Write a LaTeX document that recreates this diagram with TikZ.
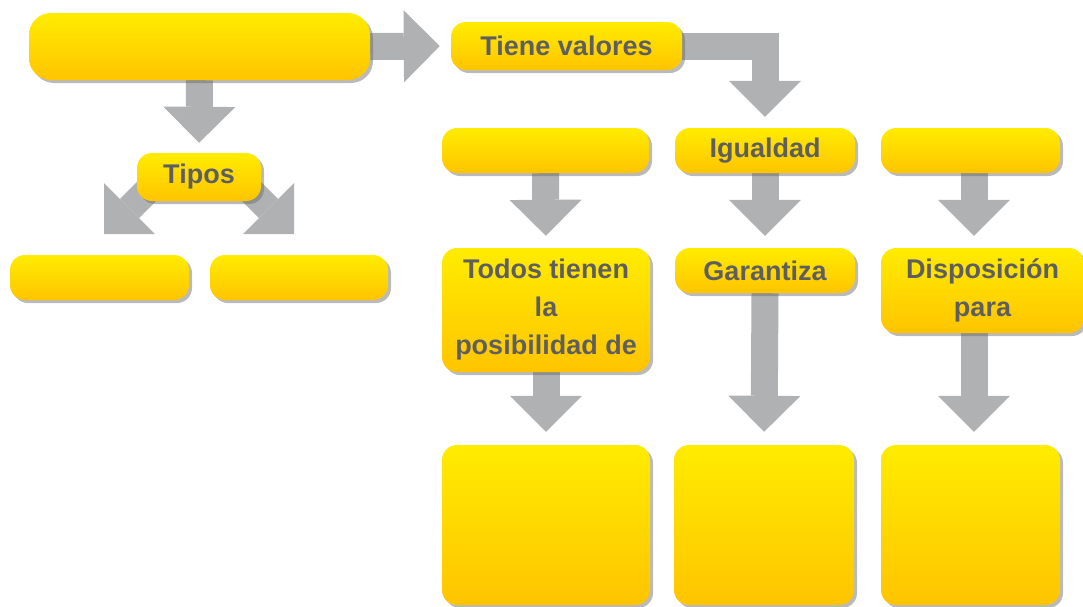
\documentclass[tikz,border=0pt]{standalone}
\usepackage{fontspec}
\setmainfont{Liberation Sans}
\usetikzlibrary{arrows.meta,shadows,backgrounds}
\definecolor{arrowgray}{HTML}{B0B1B3}
\definecolor{boxtop}{HTML}{FFEC00}
\definecolor{boxbottom}{HTML}{FFC400}
\definecolor{labelgray}{HTML}{5E5E60}

\begin{document}
\begin{tikzpicture}[x=1pt, y=-1pt]
    \tikzstyle{concept box} = [rounded corners=15pt, top color=boxtop, bottom color=boxbottom, inner sep=0pt, align=center, text=labelgray, font=\fontsize{27}{38}\selectfont\bfseries, drop shadow={shadow xshift=3pt, shadow yshift=-3pt, opacity=0.45, fill=black!60}]
    \tikzstyle{block arrow} = [draw=arrowgray, line width=27pt, -{Triangle[width=72pt,length=36pt,line width=0pt]}]
\useasboundingbox (0,0) rectangle (1083,606);
\node[concept box, minimum width=341pt, minimum height=67pt, rounded corners=22pt] (tema) at (199.5, 46.5) {};
\node[concept box, minimum width=231pt, minimum height=48pt] (valores) at (566.5, 46) {Tiene valores};
\node[concept box, minimum width=124pt, minimum height=48pt] (tipos) at (199, 177) {Tipos};
\node[concept box, minimum width=179pt, minimum height=45pt] (tipoa) at (99.5, 277.5) {};
\node[concept box, minimum width=178pt, minimum height=45pt] (tipob) at (299, 277.5) {};
\node[concept box, minimum width=207pt, minimum height=45pt] (valora) at (545.5, 150.5) {};
\node[concept box, minimum width=180pt, minimum height=45pt] (igualdad) at (765, 150.5) {Igualdad};
\node[concept box, minimum width=179pt, minimum height=45pt] (valorc) at (970.5, 150.5) {};
\node[concept box, minimum width=208pt, minimum height=124pt] (todos) at (546, 310) {Todos tienen\\la\\posibilidad de};
\node[concept box, minimum width=180pt, minimum height=45pt] (garantiza) at (765, 270.5) {Garantiza};
\node[concept box, minimum width=203pt, minimum height=85pt] (disposicion) at (982.5, 290.5) {Disposición\\para};
\node[concept box, minimum width=208pt, minimum height=160pt] (fina) at (546, 525) {};
\node[concept box, minimum width=180pt, minimum height=160pt] (finb) at (764, 525) {};
\node[concept box, minimum width=179pt, minimum height=160pt] (finc) at (970.5, 525) {};
\coordinate (tl) at (104, 234);
\coordinate (tr) at (294, 234);
\begin{pgfonlayer}{background}
\draw[block arrow, shorten >=11pt] (tema.east) -- (valores.west);
\draw[block arrow, shorten >=10pt] (tema.south) -- (tipos.north);
\draw[block arrow, shorten >=11pt] (valores.east) -| (igualdad.north);
\draw[block arrow, shorten <=-20pt] (tipos.south west) -- (tl);
\draw[block arrow, shorten <=-20pt] (tipos.south east) -- (tr);
\draw[block arrow, shorten >=12pt] (valora.south) -- (todos.north);
\draw[block arrow, shorten >=12pt] (igualdad.south) -- (garantiza.north);
\draw[block arrow, shorten >=12pt] ([xshift=3.5pt]valorc.south) -- ([xshift=3.5pt]valorc.south |- disposicion.north);
\draw[block arrow, shorten >=13pt] (todos.south) -- (fina.north);
\draw[block arrow, shorten >=13pt] (garantiza.south) -- (finb.north);
\draw[block arrow, shorten >=13pt] ([xshift=-8.5pt]disposicion.south) -- ([xshift=-8.5pt]disposicion.south |- finc.north);
\end{pgfonlayer}
\end{tikzpicture}
\end{document}
